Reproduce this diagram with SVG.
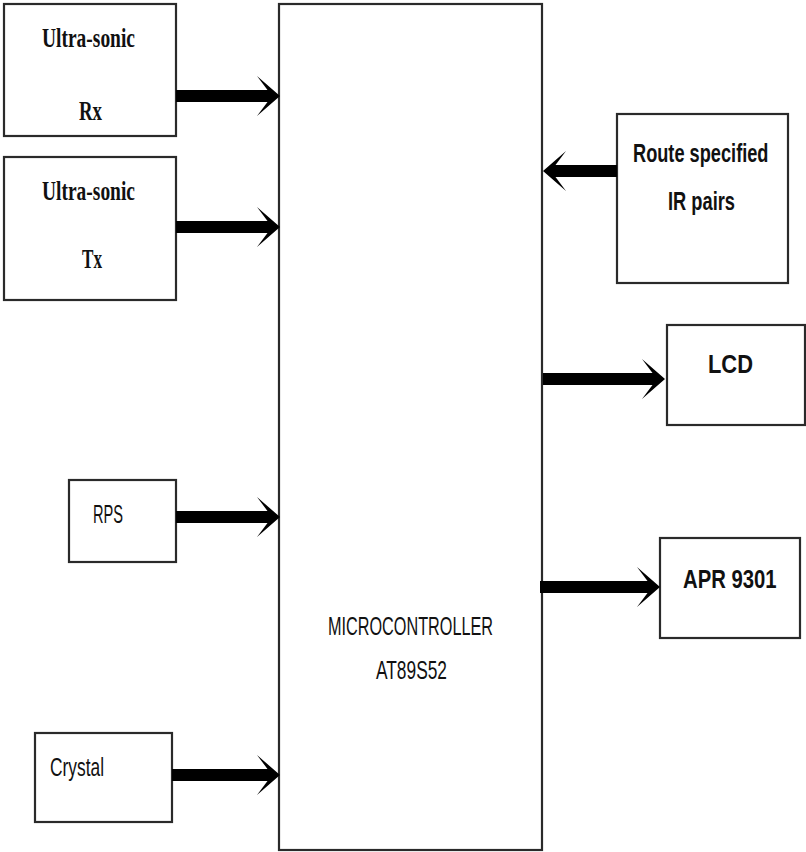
<svg xmlns="http://www.w3.org/2000/svg" width="806" height="852" viewBox="0 0 806 852">
<style>
.box{fill:#fff;stroke:#2a2a2a;stroke-width:2.2}
.serif{font-family:"Liberation Serif","Times New Roman",serif;font-weight:bold;font-size:27px;fill:#111}
.sans{font-family:"Liberation Sans",Arial,sans-serif;font-size:25px;fill:#111}
.b{font-weight:bold;font-size:26px}
.conn{stroke:#000;stroke-width:12;fill:none;marker-end:url(#ah)}
</style>
<defs>
<marker id="ah" markerUnits="userSpaceOnUse" markerWidth="24" markerHeight="40" viewBox="0 0 24 40" refX="15" refY="20" orient="auto">
<path d="M0,0 L23,20 L0,40 L15,20 Z" fill="#000"/>
</marker>
</defs>
<rect x="0" y="0" width="806" height="852" fill="#fff"/>
<g id="mcu">
<rect class="box" x="279" y="4" width="263" height="846"/>
<text class="sans" x="328" y="635" textLength="165" lengthAdjust="spacingAndGlyphs">MICROCONTROLLER</text>
<text class="sans" x="376" y="679" textLength="71" lengthAdjust="spacingAndGlyphs">AT89S52</text>
</g>
<g id="us-rx">
<rect class="box" x="4" y="4" width="172" height="132"/>
<text class="serif" x="42" y="47" textLength="93" lengthAdjust="spacingAndGlyphs">Ultra-sonic</text>
<text class="serif" x="79" y="120" textLength="23" lengthAdjust="spacingAndGlyphs">Rx</text>
</g>
<g id="us-tx">
<rect class="box" x="4" y="157" width="172" height="143"/>
<text class="serif" x="42" y="200" textLength="93" lengthAdjust="spacingAndGlyphs">Ultra-sonic</text>
<text class="serif" x="82" y="268" textLength="20" lengthAdjust="spacingAndGlyphs">Tx</text>
</g>
<g id="rps">
<rect class="box" x="69" y="480" width="107" height="82"/>
<text class="sans" x="93" y="523" textLength="30" lengthAdjust="spacingAndGlyphs">RPS</text>
</g>
<g id="crystal">
<rect class="box" x="35" y="733" width="137" height="89"/>
<text class="sans" x="50" y="776" textLength="54" lengthAdjust="spacingAndGlyphs">Crystal</text>
</g>
<g id="ir">
<rect class="box" x="617" y="114" width="171" height="169"/>
<text class="sans b" transform="translate(633,162) scale(0.70,1)">Route specified</text>
<text class="sans b" x="668" y="210" textLength="67" lengthAdjust="spacingAndGlyphs">IR pairs</text>
</g>
<g id="lcd">
<rect class="box" x="667" y="325" width="138" height="100"/>
<text class="sans b" x="708" y="373" textLength="45" lengthAdjust="spacingAndGlyphs">LCD</text>
</g>
<g id="apr">
<rect class="box" x="660" y="538" width="140" height="100"/>
<text class="sans b" transform="translate(683,588) scale(0.78,1)">APR 9301</text>
</g>
<g id="connectors">
<line class="conn" x1="176" y1="96" x2="272" y2="96"/>
<line class="conn" x1="176" y1="227" x2="272" y2="227"/>
<line class="conn" x1="176" y1="517" x2="272" y2="517"/>
<line class="conn" x1="172" y1="775" x2="272" y2="775"/>
<line class="conn" x1="617" y1="171" x2="551" y2="171"/>
<line class="conn" x1="543" y1="379" x2="657" y2="379"/>
<line class="conn" x1="540" y1="587" x2="652" y2="587"/>
</g>
</svg>
